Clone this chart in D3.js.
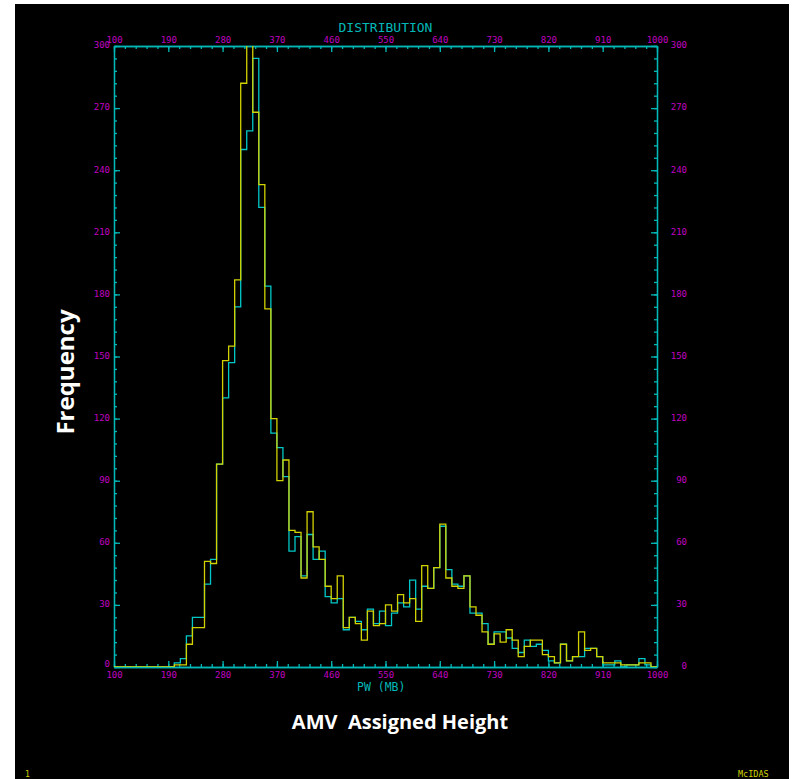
<!DOCTYPE html>
<html>
<head>
<meta charset="utf-8">
<script src="https://cdn.jsdelivr.net/npm/d3@7/dist/d3.min.js"></script>
<style>
  body { margin: 0; background: #fff; }
  .axis text { font-family: 'DejaVu Sans Mono', monospace; font-size: 9px; fill: #c000c0; }
  .axis line, .axis path { stroke: #00b8b8; stroke-width: 1.3; }
  .hist { fill: none; stroke-width: 1.3; }
</style>
</head>
<body>
<script>
// pressure bins, 10 mb wide, starting at 100 mb
const binStart = 100;
const binWidth = 10;

const xTicks = [100, 190, 280, 370, 460, 550, 640, 730, 820, 910, 1000];
const yTicks = [0, 30, 60, 90, 120, 150, 180, 210, 240, 270, 300];

// cyan series, one value per bin (100..990)
const cyanCounts = [
  0, 0, 0, 0, 0, 0, 0, 0, 0, 0,
  2, 4, 15, 24, 24, 40, 52, 98, 130, 147,
  174, 250, 259, 294, 222, 184, 113, 106, 92, 56,
  63, 44, 64, 52, 56, 34, 31, 33, 18, 24,
  22, 18, 28, 21, 27, 20, 26, 31, 29, 42,
  28, 39, 38, 48, 68, 47, 40, 39, 44, 26,
  26, 21, 11, 17, 17, 14, 9, 7, 13, 10,
  11, 8, 3, 2, 11, 3, 5, 5, 9, 9,
  5, 1, 1, 3, 0, 1, 1, 4, 1, 0
];

// yellow series, one value per bin (100..990)
const yellowCounts = [
  0, 0, 0, 0, 0, 0, 0, 0, 0, 0,
  1, 1, 11, 19, 19, 51, 50, 98, 148, 155,
  187, 282, 315, 268, 233, 173, 120, 90, 100, 66,
  65, 43, 75, 58, 52, 39, 33, 44, 19, 24,
  21, 13, 27, 20, 21, 30, 27, 35, 31, 33,
  22, 49, 38, 48, 69, 43, 39, 38, 44, 29,
  25, 17, 11, 16, 12, 18, 13, 5, 10, 13,
  13, 6, 5, 2, 11, 3, 5, 17, 8, 9,
  5, 2, 2, 2, 1, 1, 1, 2, 2, 0
];

const W = 792;
const H = 779;
const plot = { left: 114, top: 46, right: 657, bottom: 667 };

const svg = d3.select('body').append('svg')
    .attr('width', W)
    .attr('height', H);

// black screen area
svg.append('rect')
  .attr('x', 15).attr('y', 4)
  .attr('width', 774).attr('height', H - 4)
  .attr('fill', '#000');

const x = d3.scaleLinear()
  .domain([100, 1000])
  .range([plot.left, plot.right]);

const y = d3.scaleLinear()
  .domain([0, 300])
  .range([plot.bottom, plot.top]);

const xMinor = d3.range(100, 1001, 18);
const yMinor = d3.range(0, 301, 6);

// minor ticks in one group, major ticks + labels in another
function axisPair(axisFn, scale, transform, major, minor) {
  svg.append('g').attr('class', 'axis').attr('transform', transform)
    .call(axisFn(scale).tickValues(minor).tickSize(-3).tickSizeOuter(0).tickFormat(''));
  return svg.append('g').attr('class', 'axis').attr('transform', transform)
    .call(axisFn(scale).tickValues(major).tickSize(-6).tickSizeOuter(0)
      .tickPadding(4).tickFormat(d3.format('d')));
}

axisPair(d3.axisTop, x, `translate(0,${plot.top})`, xTicks, xMinor)
  .selectAll('text').attr('y', -3.5);
axisPair(d3.axisBottom, x, `translate(0,${plot.bottom})`, xTicks, xMinor)
  .selectAll('text').attr('y', 4.5);
axisPair(d3.axisLeft, y, `translate(${plot.left},0)`, yTicks, yMinor)
  .selectAll('text').attr('dy', d => d === 0 ? '-0.05em' : '0.2em');
axisPair(d3.axisRight, y, `translate(${plot.right},0)`, yTicks, yMinor)
  .selectAll('text')
    .attr('x', 30)
    .attr('dy', '0.2em')
    .attr('text-anchor', 'end');

// histograms
svg.append('clipPath').attr('id', 'plot-clip')
  .append('rect')
    .attr('x', plot.left).attr('y', plot.top)
    .attr('width', plot.right - plot.left)
    .attr('height', plot.bottom - plot.top);

const step = d3.line()
  .x(d => x(d[0]))
  .y(d => y(d[1]))
  .curve(d3.curveStepAfter);

function steps(counts) {
  const pts = counts.map((c, i) => [binStart + i * binWidth, c]);
  pts.push([binStart + counts.length * binWidth, counts[counts.length - 1]]);
  return pts;
}

svg.append('path')
  .attr('class', 'hist')
  .attr('clip-path', 'url(#plot-clip)')
  .attr('stroke', '#00c8c8')
  .attr('d', step(steps(cyanCounts)));

svg.append('path')
  .attr('class', 'hist')
  .attr('clip-path', 'url(#plot-clip)')
  .attr('stroke', '#d2d200')
  .attr('d', step(steps(yellowCounts)));

// titles
svg.append('text')
  .attr('x', (plot.left + plot.right) / 2)
  .attr('y', 32)
  .attr('text-anchor', 'middle')
  .attr('font-family', 'DejaVu Sans Mono, monospace')
  .attr('font-size', 13)
  .attr('fill', '#00b8b8')
  .text('DISTRIBUTION');

svg.append('text')
  .attr('x', 357)
  .attr('y', 691)
  .attr('font-family', 'DejaVu Sans Mono, monospace')
  .attr('font-size', 11.5)
  .attr('fill', '#00b8b8')
  .text('PW (MB)');

svg.append('text')
  .attr('transform', 'translate(74,372) rotate(-90)')
  .attr('text-anchor', 'middle')
  .attr('font-family', 'Open Sans, sans-serif')
  .attr('font-weight', 'bold')
  .attr('font-size', 24)
  .attr('fill', '#fff')
  .text('Frequency');

svg.append('text')
  .attr('x', 400)
  .attr('y', 729)
  .attr('text-anchor', 'middle')
  .attr('font-family', 'Open Sans, sans-serif')
  .attr('font-weight', 'bold')
  .attr('font-size', 20)
  .attr('fill', '#fff')
  .style('white-space', 'pre')
  .text('AMV  Assigned Height');

svg.append('text')
  .attr('x', 25)
  .attr('y', 777)
  .attr('font-family', 'DejaVu Sans Mono, monospace')
  .attr('font-size', 8)
  .attr('fill', '#d2d200')
  .text('1');

svg.append('text')
  .attr('x', 738)
  .attr('y', 777)
  .attr('font-family', 'DejaVu Sans Mono, monospace')
  .attr('font-size', 8.5)
  .attr('fill', '#d2d200')
  .text('McIDAS');
</script>
</body>
</html>
